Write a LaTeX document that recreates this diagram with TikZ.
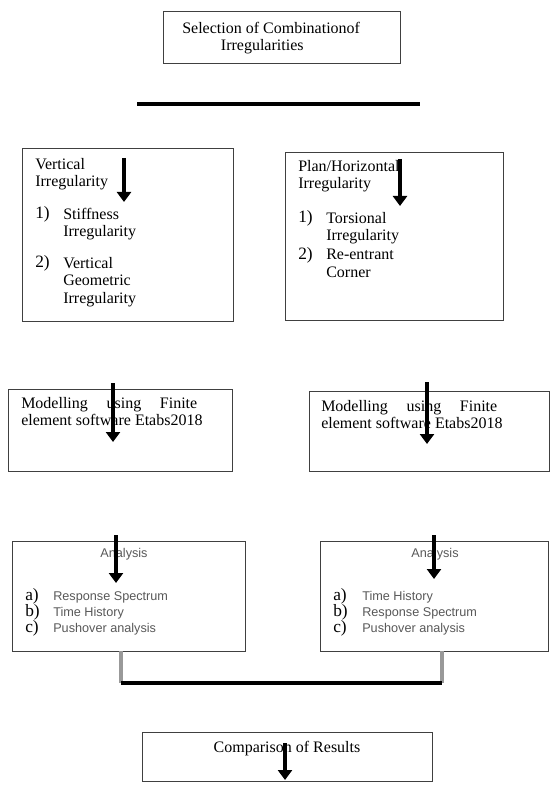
\documentclass[tikz,border=0pt]{standalone}
\usepackage{fontspec}
\setmainfont{Liberation Serif}
\setsansfont{Liberation Sans}
\usetikzlibrary{arrows.meta,fit}

\begin{document}
\begin{tikzpicture}[
            x=0.75pt, y=-0.75pt,
            block/.style={rectangle, draw=black!75, line width=0.6pt, inner sep=0pt},
            txt/.style={inner sep=0pt, anchor=north west, align=left, font=\fontsize{12}{13}\selectfont},
            num/.style={inner sep=0pt, anchor=base west, font=\fontsize{13}{14}\selectfont},
            sub/.style={inner sep=0pt, anchor=base west, font=\fontsize{9.5}{11}\sffamily, text=black!65},
            bar/.style={line width=3pt},
            arrow/.style={-{Triangle[width=10.5pt,length=7.5pt]}, line width=2.8pt}
        ]
            \useasboundingbox (0,0) rectangle (550,787);

            % boxes
            \node[block, fit={(163,11) (400,63)}] (sel) {};
            \node[block, fit={(22,148) (233,321)}] (vert) {};
            \node[block, fit={(285,152) (503,320)}] (plan) {};
            \node[block, fit={(8,389) (232,471)}] (modL) {};
            \node[block, fit={(309,391) (549,471)}] (modR) {};
            \node[block, fill=white, fit={(12,541) (245,651)}] (anaL) {};
            \node[block, fill=white, fit={(320,541) (548,651)}] (anaR) {};
            \node[block, fit={(142,732) (432,781)}] (comp) {};

            % texts
            \node[txt] (selT) at (182,22) {Selection of Combinationof\\\hspace*{29pt}Irregularities};

            \node[txt] (vertT) at (35,158) {Vertical\\Irregularity};
            \node[num] (v1) at (35,219) {1)};
            \node[txt] (v1T) at (63,208) {Stiffness\\Irregularity};
            \node[num] (v2) at (35,268) {2)};
            \node[txt] (v2T) at (63,257) {Vertical\\Geometric\\Irregularity};

            \node[txt] (planT) at (298,160) {Plan/Horizontal\\Irregularity};
            \node[num] (p1) at (298,223) {1)};
            \node[txt] (p1T) at (326,212) {Torsional\\Irregularity};
            \node[num] (p2) at (298,260) {2)};
            \node[txt] (p2T) at (326,249) {Re-entrant\\Corner};

            \node[txt] (modLT) at (21,397) {\makebox[132pt][s]{Modelling using Finite}\\element software Etabs2018};
            \node[txt] (modRT) at (321,400) {\makebox[132pt][s]{Modelling using Finite}\\element software Etabs2018};

            \node[sub, anchor=center] (anaLT) at (124,554) {Analysis};
            \node[num] (la) at (25,600) {a)};
            \node[sub] (laT) at (53,600) {Response Spectrum};
            \node[num] (lb) at (25,616) {b)};
            \node[sub] (lbT) at (53,616) {Time History};
            \node[num] (lc) at (25,632) {c)};
            \node[sub] (lcT) at (53,632) {Pushover analysis};

            \node[sub, anchor=center] (anaRT) at (435,554) {Analysis};
            \node[num] (ra) at (333,600) {a)};
            \node[sub] (raT) at (362,600) {Time History};
            \node[num] (rb) at (333,616) {b)};
            \node[sub] (rbT) at (362,616) {Response Spectrum};
            \node[num] (rc) at (333,632) {c)};
            \node[sub] (rcT) at (362,632) {Pushover analysis};

            \node[font=\fontsize{12}{13}\selectfont] (compT) at (287,749) {Comparison of Results};

            % bars
            \coordinate (b1L) at (137,104);
            \coordinate (b1R) at (420,104);
            \draw[bar] (b1L) -- (b1R);

            \coordinate (b2L) at (121,683);
            \coordinate (b2R) at (442,683);
            \draw[line width=2.5pt, black!40] (anaL.south -| b2L) -- (b2L);
            \draw[line width=2.5pt, black!40] (anaR.south -| b2R) -- (b2R);
            \draw[bar] (b2L) -- (b2R);

            % arrows
            \coordinate (a1) at (124,158); \coordinate (a1e) at (124,202);
            \coordinate (a2) at (400,159); \coordinate (a2e) at (400,206);
            \coordinate (a3) at (113,383); \coordinate (a3e) at (113,442);
            \coordinate (a4) at (427,382); \coordinate (a4e) at (427,444);
            \coordinate (a5) at (116,535); \coordinate (a5e) at (116,583);
            \coordinate (a6) at (434,535); \coordinate (a6e) at (434,579);
            \coordinate (a7) at (285,743); \coordinate (a7e) at (285,780);
            \draw[arrow] (a1) -- (a1e);
            \draw[arrow] (a2) -- (a2e);
            \draw[arrow] (a3) -- (a3e);
            \draw[arrow] (a4) -- (a4e);
            \draw[arrow] (a5) -- (a5e);
            \draw[arrow] (a6) -- (a6e);
            \draw[arrow] (a7) -- (a7e);
        \end{tikzpicture}
\end{document}
